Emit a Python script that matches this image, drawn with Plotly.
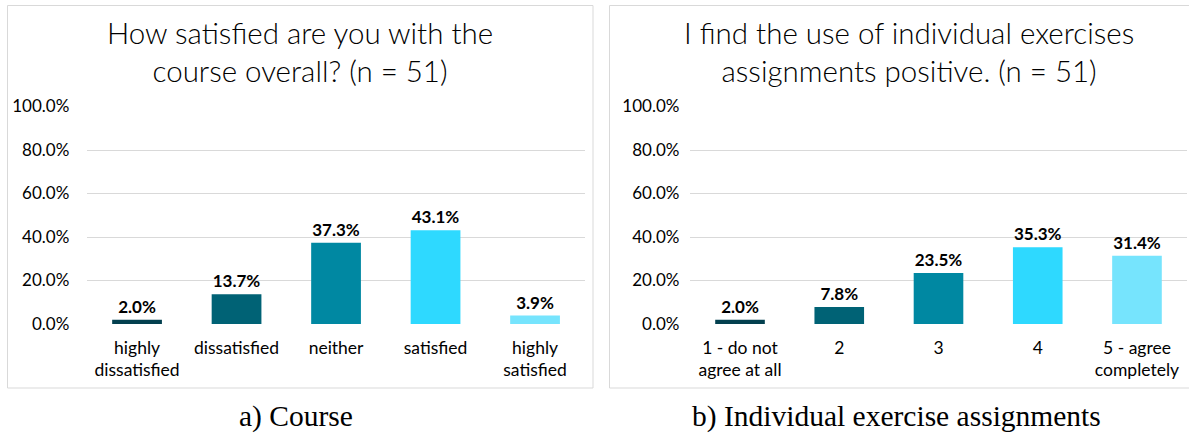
import plotly.graph_objects as go

cats_a = ["highly<br>dissatisfied", "dissatisfied", "neither", "satisfied", "highly<br>satisfied"]
vals_a = [0.020, 0.137, 0.373, 0.431, 0.039]
cats_b = ["1 - do not<br>agree at all", "2", "3", "4", "5 - agree<br>completely"]
vals_b = [0.020, 0.078, 0.235, 0.353, 0.314]
colors = ["#03404F", "#006275", "#0088A2", "#2ED9FF", "#76E4FD"]
title_a = "How satisfied are you with the<br>course overall? (n = 51)"
title_b = "I find the use of individual exercises<br>assignments positive. (n = 51)"
caption_a = "a) Course"
caption_b = "b) Individual exercise assignments"
yticks = [0, 0.2, 0.4, 0.6, 0.8, 1.0]

W, H = 1189, 436
SANS = "Lato, 'Open Sans', sans-serif"

def px(x):
    return x / W

def py(y):
    return 1 - y / H

fig = go.Figure()
for i, (cats, vals) in enumerate([(cats_a, vals_a), (cats_b, vals_b)]):
    fig.add_trace(go.Bar(
        x=cats, y=vals, marker=dict(color=colors, line=dict(width=0)),
        text=[f"{v*100:.1f}%" for v in vals], textposition="outside",
        textfont=dict(family=SANS, size=17, color="#000000", weight="bold"),
        cliponaxis=False, width=0.5,
        xaxis="x" if i == 0 else "x2", yaxis="y" if i == 0 else "y2",
        showlegend=False,
    ))

ydom = [py(324), py(106.5)]
axis_common = dict(showgrid=False, showline=False, zeroline=False, ticks="",
                   tickfont=dict(family=SANS, size=17.5, color="#000000"),
                   ticklabelstandoff=11, automargin=False)
yaxis_common = dict(range=[0, 1], tickvals=yticks, tickformat=".1%",
                    showgrid=True, gridcolor="#D9D9D9", gridwidth=1,
                    zeroline=False, showline=False, ticks="", automargin=False,
                    tickfont=dict(family=SANS, size=17, color="#000000"))

fig.update_layout(
    width=W, height=H, margin=dict(l=0, r=0, t=0, b=0, pad=0), autosize=False,
    paper_bgcolor="white", plot_bgcolor="white",
    xaxis=dict(domain=[px(87.3), px(584.8)], anchor="y", **axis_common),
    yaxis=dict(domain=ydom, anchor="x", ticklabelstandoff=17, **yaxis_common),
    xaxis2=dict(domain=[px(690.4), px(1186.6)], anchor="y2", **axis_common),
    yaxis2=dict(domain=ydom, anchor="x2", ticklabelstandoff=10, **yaxis_common),
    bargap=0.5,
)

shapes = [
    dict(type="rect", xref="paper", yref="paper", x0=px(7.5), x1=px(593), y0=py(388), y1=py(5.5),
         line=dict(color="#D9D9D9", width=1), fillcolor="rgba(0,0,0,0)", layer="below"),
    dict(type="rect", xref="paper", yref="paper", x0=px(609.5), x1=px(1200), y0=py(388), y1=py(5.5),
         line=dict(color="#D9D9D9", width=1), fillcolor="rgba(0,0,0,0)", layer="below"),
]
fig.update_layout(shapes=shapes)

annotations = [
    dict(text=title_a, x=px(300), y=py(52), xref="paper", yref="paper", showarrow=False,
         xanchor="center", yanchor="middle",
         font=dict(family=SANS, size=29.5, color="#000000", weight=300)),
    dict(text=title_b, x=px(909), y=py(52), xref="paper", yref="paper", showarrow=False,
         xanchor="center", yanchor="middle",
         font=dict(family=SANS, size=29.5, color="#000000", weight=300)),
    dict(text=caption_a, x=px(296), y=py(416), xref="paper", yref="paper", showarrow=False,
         xanchor="center", yanchor="middle",
         font=dict(family="'Liberation Serif', serif", size=29.5, color="#000000")),
    dict(text=caption_b, x=px(896), y=py(416), xref="paper", yref="paper", showarrow=False,
         xanchor="center", yanchor="middle",
         font=dict(family="'Liberation Serif', serif", size=29.5, color="#000000")),
]
fig.update_layout(annotations=annotations)

fig.write_html("out.html", config={"displayModeBar": False},
               post_script="document.body.style.margin='0';")
